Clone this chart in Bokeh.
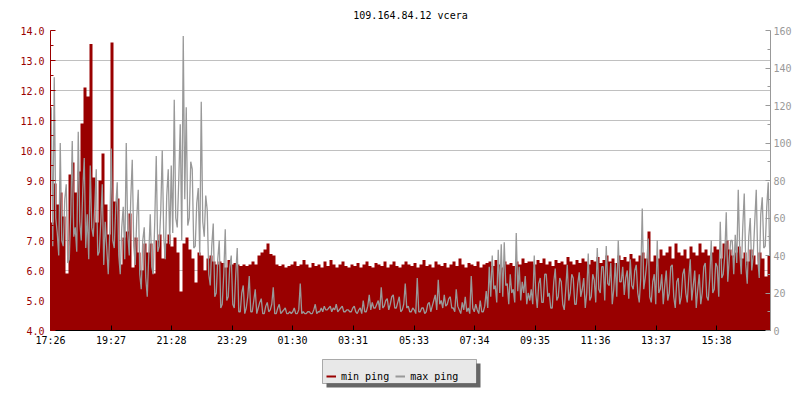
import numpy as np
from bokeh.plotting import figure
from bokeh.layouts import column
from bokeh.models import (Range1d, LinearAxis, FixedTicker, PrintfTickFormatter,
                          Legend, LegendItem, BoxAnnotation)
from bokeh.embed import file_html
from bokeh.resources import INLINE

# ---------------- data ----------------
title_text = "109.164.84.12 vcera"
time_labels = ["17:26", "19:27", "21:28", "23:29", "01:30", "03:31",
               "05:33", "07:34", "09:35", "11:36", "13:37", "15:38"]
start_label = "17:26"
span_minutes = 1440
min_step_minutes = 6
max_step_minutes = 3

series_names = ["min ping", "max ping"]

# min ping (left axis, ms), one value every 6 minutes from 17:26
min_ping = [
    7.6, 8.9, 8.2, 8.6, 7.8, 5.9, 9.2, 9.6, 8.6, 9.3, 10.9, 12.1, 11.8, 13.55, 9.1, 7.6, 9.0, 9.9, 8.2, 7.2,
    13.6, 8.3, 8.4, 6.2, 7.1, 7.3, 7.9, 6.1, 7.1, 6.6, 6.0, 6.9, 6.6, 6.9, 5.9, 7.0, 7.2, 6.4, 6.9, 7.2,
    6.8, 7.1, 6.6, 5.3, 6.9, 7.1, 6.7, 6.4, 5.6, 6.6, 6.5, 6.0, 6.4, 6.5, 6.3, 6.2, 6.3, 6.25, 6.1, 6.35,
    6.2, 6.25, 6.2, 6.15, 6.2, 6.15, 6.2, 6.3, 6.2, 6.5, 6.6, 6.7, 6.9, 6.55, 6.5, 6.2, 6.15, 6.2, 6.1, 6.15,
    6.2, 6.3, 6.15, 6.2, 6.35, 6.2, 6.1, 6.25, 6.15, 6.2, 6.1, 6.3, 6.15, 6.35, 6.2, 6.1, 6.2, 6.3, 6.15, 6.1,
    6.2, 6.15, 6.25, 6.1, 6.2, 6.3, 6.15, 6.1, 6.25, 6.2, 6.15, 6.3, 6.1, 6.2, 6.3, 6.15, 6.1, 6.2, 6.3, 6.2,
    6.15, 6.25, 6.1, 6.2, 6.35, 6.15, 6.2, 6.1, 6.3, 6.2, 6.15, 6.25, 6.1, 6.2, 6.3, 6.15, 6.4, 6.2, 6.1, 6.25,
    6.2, 6.15, 6.3, 6.1, 6.2, 6.25, 6.3, 6.15, 6.35, 6.2, 6.1, 6.3, 6.2, 6.25, 6.15, 6.3, 6.2, 6.4, 6.25, 6.3,
    6.3, 6.2, 6.35, 6.25, 6.4, 6.2, 6.3, 6.15, 6.35, 6.25, 6.3, 6.2, 6.45, 6.3, 6.2, 6.35, 6.25, 6.4, 6.3, 6.2,
    6.35, 6.3, 6.45, 6.25, 6.35, 6.5, 6.3, 6.4, 6.25, 6.5, 6.35, 6.45, 6.3, 6.55, 6.4, 6.3, 6.5, 6.6, 6.4, 7.3,
    6.3, 6.5, 6.4, 6.7, 6.5, 6.6, 6.8, 6.4, 6.9, 6.6, 6.5, 6.7, 6.4, 6.8, 6.6, 6.5, 6.9, 6.6, 6.7, 6.5,
    6.6, 6.8, 6.7, 6.4, 6.9, 7.0, 6.7, 6.5, 6.6, 6.8, 6.4, 6.6, 6.3, 6.7, 6.5, 6.2, 6.6, 6.4, 5.8, 6.5,
]

# max ping (right axis, ms), one value every 3 minutes from 17:26
max_ping = [
    119, 45, 135, 60, 52, 40, 100, 48, 45, 70, 78, 36, 38, 62, 101, 50, 55, 42, 106, 58,
    48, 75, 92, 44, 62, 38, 88, 55, 50, 66, 86, 40, 42, 58, 78, 35, 58, 44, 30, 52,
    97, 48, 44, 66, 79, 40, 30, 55, 66, 38, 100, 52, 40, 70, 91, 45, 35, 60, 75, 30,
    22, 48, 55, 28, 18, 40, 62, 34, 30, 58, 93, 42, 45, 64, 96, 50, 38, 72, 86, 46,
    88, 52, 123, 60, 55, 80, 110, 48, 157, 70, 119, 56, 60, 90, 86, 44, 45, 68, 76, 40,
    122, 58, 50, 72, 64, 30, 24, 45, 57, 18, 20, 38, 48, 12, 14, 30, 54, 16, 18, 34,
    40, 14, 12, 30, 44, 10, 10, 20, 24, 9, 12, 18, 29, 10, 10, 16, 22, 9, 12, 15,
    17, 9, 9, 13, 15, 10, 11, 14, 23, 9, 9, 12, 14, 9, 10, 11, 12, 9, 9, 10,
    9, 10, 12, 9, 9, 11, 25, 9, 10, 9, 9, 10, 10, 9, 9, 11, 14, 9, 10, 10,
    12, 10, 13, 11, 11, 12, 13, 10, 12, 11, 14, 10, 11, 12, 13, 10, 10, 11, 11, 10,
    10, 12, 13, 10, 9, 11, 12, 9, 16, 10, 10, 13, 19, 11, 15, 12, 12, 14, 16, 11,
    23, 12, 13, 16, 17, 11, 14, 18, 19, 12, 12, 15, 18, 10, 11, 14, 25, 12, 13, 10,
    10, 12, 11, 9, 28, 10, 10, 12, 12, 9, 10, 14, 15, 10, 13, 16, 19, 11, 27, 14,
    16, 12, 19, 13, 14, 17, 18, 12, 12, 10, 22, 13, 11, 9, 15, 11, 18, 10, 12, 9,
    29, 12, 10, 14, 11, 9, 16, 10, 10, 13, 21, 12, 34, 18, 40, 22, 24, 15, 43, 20,
    46, 18, 47, 24, 25, 14, 30, 20, 22, 15, 52, 21, 34, 16, 26, 20, 29, 14, 20, 16,
    22, 14, 40, 20, 12, 25, 28, 15, 15, 30, 30, 18, 20, 12, 12, 26, 33, 16, 18, 28,
    26, 14, 11, 22, 35, 16, 20, 30, 28, 14, 14, 25, 31, 18, 22, 28, 12, 20, 41, 16,
    18, 30, 27, 15, 44, 22, 20, 34, 34, 16, 45, 25, 24, 36, 14, 22, 36, 18, 48, 26,
    26, 34, 19, 28, 32, 17, 38, 24, 22, 32, 35, 20, 15, 28, 65, 22, 28, 36, 49, 18,
    15, 26, 30, 14, 48, 20, 22, 30, 14, 24, 32, 16, 20, 34, 35, 18, 12, 26, 28, 14,
    18, 30, 33, 20, 15, 28, 38, 16, 24, 32, 12, 22, 30, 14, 20, 34, 36, 18, 16, 28,
    48, 20, 22, 36, 34, 18, 58, 28, 30, 40, 63, 26, 38, 48, 48, 30, 51, 36, 75, 42,
    30, 55, 73, 35, 25, 50, 60, 32, 40, 58, 75, 38, 28, 62, 71, 44, 45, 66, 79, 40,
]

left_range = (4.0, 14.0)
right_range = (0, 160)

# ---------------- derived ----------------
def minutes_after_start(lbl):
    h, m = map(int, lbl.split(":"))
    h0, m0 = map(int, start_label.split(":"))
    return ((h * 60 + m) - (h0 * 60 + m0)) % 1440

tick_pos = [minutes_after_start(l) for l in time_labels]
n_min = len(min_ping)
xs = np.arange(n_min + 1) * min_step_minutes
mn = np.append(np.array(min_ping, dtype=float), min_ping[-1])
n_max = len(max_ping)
mx_x = (np.arange(n_max) + 0.5) * max_step_minutes
mx = np.array(max_ping, dtype=float)

FONT = "DejaVu Sans Mono"
RED = "#990000"
GRAY = "#999999"
W = 796
BL, BR = 50, 26

p = figure(width=W, height=352, output_backend="svg", toolbar_location=None,
           x_range=Range1d(0, span_minutes), y_range=Range1d(*left_range),
           min_border_left=BL, min_border_right=BR, min_border_top=30, min_border_bottom=22)
p.outline_line_color = None
p.background_fill_color = "white"
p.border_fill_color = "white"
p.xgrid.visible = False

p.title.text = title_text
p.title.align = "center"
p.title.vertical_align = "top"
p.title.text_font = FONT
p.title.text_font_size = "10px"
p.title.text_font_style = "normal"
p.title.text_color = "black"
p.title.standoff = 16

left_ticker = FixedTicker(ticks=list(np.arange(left_range[0], left_range[1] + 0.01, 1.0)),
                          minor_ticks=list(np.arange(left_range[0] + 0.5, left_range[1], 1.0)))
ya = p.yaxis[0]
ya.ticker = left_ticker
ya.formatter = PrintfTickFormatter(format="%.1f")
ya.axis_line_color = RED
ya.major_tick_line_color = RED
ya.minor_tick_line_color = RED
ya.major_label_text_color = RED
ya.major_tick_in = 5
ya.major_tick_out = 0
ya.minor_tick_in = 3
ya.minor_tick_out = 0
ya.major_label_standoff = 6
ya.major_label_text_font = FONT
ya.major_label_text_font_size = "10px"
p.ygrid[0].ticker = left_ticker
p.ygrid[0].grid_line_color = "#c0c0c0"

p.extra_y_ranges = {"max": Range1d(*right_range)}
ra = LinearAxis(y_range_name="max",
                ticker=FixedTicker(ticks=list(range(right_range[0], right_range[1] + 1, 20)),
                                   minor_ticks=list(range(right_range[0] + 10, right_range[1], 20))))
ra.axis_line_color = GRAY
ra.major_tick_line_color = GRAY
ra.minor_tick_line_color = GRAY
ra.major_label_text_color = GRAY
ra.major_tick_in = 5
ra.major_tick_out = 0
ra.minor_tick_in = 3
ra.minor_tick_out = 0
ra.major_label_standoff = 3
ra.major_label_text_font = FONT
ra.major_label_text_font_size = "10px"
p.add_layout(ra, "right")

xa = p.xaxis[0]
xa.ticker = FixedTicker(ticks=tick_pos, minor_ticks=[])
xa.major_label_overrides = {t: l for t, l in zip(tick_pos, time_labels)}
xa.axis_line_color = "black"
xa.major_tick_line_color = "black"
xa.minor_tick_line_color = None
xa.major_tick_in = 5
xa.major_tick_out = 0
xa.major_label_standoff = 4
xa.major_label_text_font = FONT
xa.major_label_text_font_size = "10px"
xa.major_label_text_color = "black"

# series
p.varea_step(x=xs, y1=left_range[0], y2=mn, step_mode="after", fill_color=RED)
p.line(mx_x, mx, line_color=GRAY, line_width=1.3, y_range_name="max")

# ---------------- legend strip (frame aligned with main plot, data x = canvas px) ----------------
LH = 44
lg = figure(width=W, height=LH, output_backend="svg", toolbar_location=None,
            x_range=Range1d(BL, W - BR), y_range=Range1d(LH, 0),
            x_axis_location=None, y_axis_location=None,
            min_border_left=BL, min_border_right=BR, min_border_top=0, min_border_bottom=0)
lg.outline_line_color = None
lg.background_fill_color = "white"
lg.border_fill_color = "white"
lg.grid.visible = False

nan = [float("nan")]
r_min = lg.line(nan, nan, line_color=RED, line_width=2)
r_max = lg.line(nan, nan, line_color=GRAY, line_width=2)
box_l, box_t, box_w, box_h, sh = 322, 7, 154, 24, 4
lg.add_layout(BoxAnnotation(left=box_l + sh, right=box_l + box_w + sh, top=box_t + sh, bottom=box_t + box_h + sh,
                            fill_color="#666666", fill_alpha=1, line_color=None))
lg.add_layout(BoxAnnotation(left=box_l, right=box_l + box_w, top=box_t, bottom=box_t + box_h,
                            fill_color="#e8e8e8", fill_alpha=1, line_color="black", line_width=1))
legend = Legend(items=[LegendItem(label=series_names[0], renderers=[r_min]),
                       LegendItem(label=series_names[1], renderers=[r_max])],
                location=(box_l - BL + 4, LH - box_t - box_h), orientation="horizontal", padding=5, spacing=6,
                glyph_width=10, glyph_height=14, label_height=14, label_standoff=5,
                label_text_font=FONT, label_text_font_size="10px", label_text_color="black",
                background_fill_alpha=0, border_line_color=None, margin=0)
lg.add_layout(legend)

layout = column(p, lg, spacing=0)
open("out.html", "w").write(file_html(layout, INLINE, title=title_text))
